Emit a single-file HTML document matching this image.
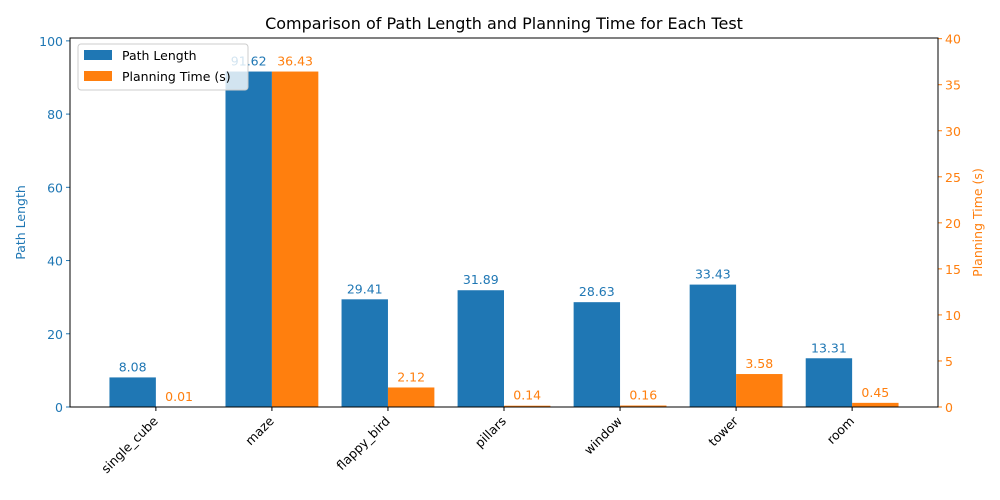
<!DOCTYPE html>
<html><head><meta charset="utf-8"><style>
body{margin:0;background:#fff;}
svg{display:block;font-family:"DejaVu Sans","Liberation Sans",sans-serif;}
</style></head><body>
<svg id="chart" width="1000" height="500"></svg>
<script>
const categories=["single_cube","maze","flappy_bird","pillars","window","tower","room"];
const pathLength=[8.08,91.62,29.41,31.89,28.63,33.43,13.31];
const planTime=[0.01,36.43,2.12,0.14,0.16,3.58,0.45];
const leftTicks=[0,20,40,60,80,100];
const rightTicks=[0,5,10,15,20,25,30,35,40];

const NS="http://www.w3.org/2000/svg";
const svg=document.getElementById('chart');
const L=70,R=938,T=38,B=407;
const leftMax=Math.max(...pathLength)*1.1, rightMax=Math.max(...planTime)*1.1;
const yL=v=>B-(v/leftMax)*(B-T);
const yR=v=>B-(v/rightMax)*(B-T);
// matplotlib bar-axis padding: categories span index -0.74..n-0.26
const xMin=-0.74, xMax=categories.length-0.26;
const xC=i=>L+(i-xMin)/(xMax-xMin)*(R-L);
const step=(R-L)/(xMax-xMin);
const bw=step*0.4;
const BLUE="#1f77b4",ORANGE="#ff7f0e";
const FS=12.5;
function mk(tag,attrs,txt){const e=document.createElementNS(NS,tag);for(const k in attrs)e.setAttribute(k,attrs[k]);if(txt!==undefined)e.textContent=txt;svg.appendChild(e);return e;}

categories.forEach((c,i)=>{
  const x=xC(i);
  let b=mk('rect',{x:x-bw,y:yL(pathLength[i]),width:bw,height:B-yL(pathLength[i]),fill:BLUE});
  
  
  let o=mk('rect',{x:x,y:yR(planTime[i]),width:bw,height:B-yR(planTime[i]),fill:ORANGE});
  
  
  let t1=mk('text',{x:x-bw/2,y:yL(pathLength[i])-6,'text-anchor':'middle','font-size':FS,fill:BLUE},pathLength[i].toFixed(2));
  
  
  let t2=mk('text',{x:x+bw/2,y:yR(planTime[i])-6,'text-anchor':'middle','font-size':FS,fill:ORANGE},planTime[i].toFixed(2));
  
  
  mk('line',{x1:x,x2:x,y1:B,y2:B+4,stroke:'#000'});
  let xl=mk('text',{x:x,y:B+16,'text-anchor':'end','font-size':FS,transform:`rotate(-45 ${x} ${B+12})`},c);
  
  
});

leftTicks.forEach(v=>{
  const y=yL(v);
  mk('line',{x1:L-4,x2:L,y1:y,y2:y,stroke:BLUE});
  let t=mk('text',{x:L-7,y:y+5,'text-anchor':'end','font-size':FS,fill:BLUE},v);
  
  
});
rightTicks.forEach(v=>{
  const y=yR(v);
  mk('line',{x1:R,x2:R+4,y1:y,y2:y,stroke:ORANGE});
  let t=mk('text',{x:R+7,y:y+5,'text-anchor':'start','font-size':FS,fill:ORANGE},v);
  
  
});
let frame=mk('rect',{x:L,y:T,width:R-L,height:B-T,fill:'none',stroke:'#000','stroke-width':1});



let title=mk('text',{x:(L+R)/2,y:29,'text-anchor':'middle','font-size':16},'Comparison of Path Length and Planning Time for Each Test');


let yl=mk('text',{x:25,y:(T+B)/2,'text-anchor':'middle','font-size':FS,fill:BLUE,transform:`rotate(-90 25 ${(T+B)/2})`},'Path Length');


let yr=mk('text',{x:982,y:(T+B)/2,'text-anchor':'middle','font-size':FS,fill:ORANGE,transform:`rotate(-90 982 ${(T+B)/2})`},'Planning Time (s)');



let lg=mk('rect',{x:78,y:44,width:170,height:46,fill:'#fff','fill-opacity':0.8,stroke:'#ccc',rx:3});


mk('rect',{x:84,y:50,width:28,height:10,fill:BLUE});
let l1=mk('text',{x:122,y:60,'font-size':FS},'Path Length');


mk('rect',{x:84,y:71,width:28,height:10,fill:ORANGE});
let l2=mk('text',{x:122,y:81,'font-size':FS},'Planning Time (s)');


</script>
</body></html>
